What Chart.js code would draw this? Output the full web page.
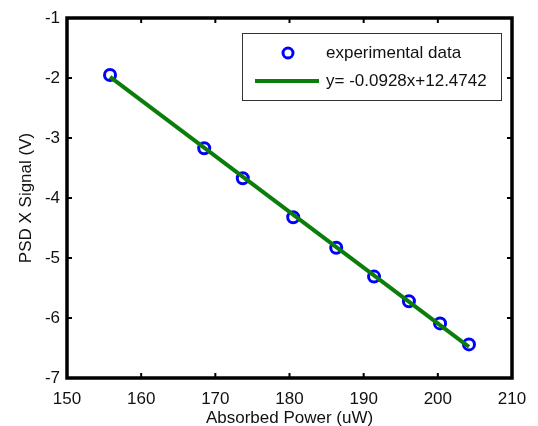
<!DOCTYPE html>
<html>
<head>
<meta charset="utf-8">
<script src="https://cdn.jsdelivr.net/npm/chart.js@4"></script>
<style>
  html, body { margin: 0; padding: 0; background: #fff; }
  #wrap { width: 538px; height: 426px; }
</style>
</head>
<body>
<div id="wrap"><canvas id="psd-chart"></canvas></div>
<script>
// measured points
const powerValues = [155.8, 168.5, 173.7, 180.5, 186.3, 191.4, 196.1, 200.3, 204.2];
const signalValues = [-1.95, -3.17, -3.67, -4.32, -4.83, -5.31, -5.72, -6.09, -6.44];
// fitted line end points
const fitX = [155.8, 204.2];
const fitY = [-1.98, -6.48];
const xTicks = [150, 160, 170, 180, 190, 200, 210];
const yTicks = [-1, -2, -3, -4, -5, -6, -7];
const legendLabels = ["experimental data", "y= -0.0928x+12.4742"];

const FONT = "'Liberation Sans', Arial, sans-serif";
const BLUE = "#0000ff";
const GREEN = "#0a7d0a";
const TXT = "#111";

// box + inward ticks like matlab
const boxPlugin = {
  id: "box",
  afterDatasetsDraw(chart) {
    const { ctx, chartArea: a, scales } = chart;
    ctx.save();
    ctx.strokeStyle = "#000";
    ctx.lineWidth = 2;
    const len = 5;
    ctx.beginPath();
    xTicks.forEach((t) => {
      const px = scales.x.getPixelForValue(t);
      ctx.moveTo(px, a.bottom); ctx.lineTo(px, a.bottom - len);
      ctx.moveTo(px, a.top); ctx.lineTo(px, a.top + len);
    });
    yTicks.forEach((t) => {
      const py = scales.y.getPixelForValue(t);
      ctx.moveTo(a.left, py); ctx.lineTo(a.left + len, py);
      ctx.moveTo(a.right, py); ctx.lineTo(a.right - len, py);
    });
    ctx.stroke();
    ctx.lineWidth = 3.5;
    ctx.strokeRect(a.left, a.top, a.right - a.left, a.bottom - a.top);
    ctx.restore();
  },
};

const legendPlugin = {
  id: "boxLegend",
  afterDraw(chart) {
    const { ctx, chartArea: a } = chart;
    const right = a.right - 11;
    const left = right - 259;
    const top = a.top + 15;
    const h = 67;
    ctx.save();
    ctx.fillStyle = "#fff";
    ctx.fillRect(left, top, right - left, h);
    ctx.strokeStyle = "#333";
    ctx.lineWidth = 1;
    ctx.strokeRect(left + 0.5, top + 0.5, right - left, h);

    // row 1 marker
    ctx.strokeStyle = BLUE;
    ctx.lineWidth = 3;
    ctx.beginPath();
    ctx.arc(left + 46, top + 20, 5, 0, Math.PI * 2);
    ctx.stroke();
    // row 2 line
    ctx.strokeStyle = GREEN;
    ctx.lineWidth = 4;
    ctx.beginPath();
    ctx.moveTo(left + 13, top + 48);
    ctx.lineTo(left + 77, top + 48);
    ctx.stroke();

    ctx.fillStyle = TXT;
    ctx.font = "17px " + FONT;
    ctx.textBaseline = "middle";
    ctx.fillText(legendLabels[0], left + 84, top + 20);
    ctx.fillText(legendLabels[1], left + 84, top + 48);
    ctx.restore();
  },
};

const ctx = document.getElementById("psd-chart").getContext("2d");
const chart = new Chart(ctx, {
  type: "scatter",
  data: {
    datasets: [
      {
        label: legendLabels[0],
        data: powerValues.map((x, i) => ({ x: x, y: signalValues[i] })),
        showLine: false,
        pointStyle: "circle",
        pointRadius: 5.5,
        pointBorderWidth: 3,
        borderColor: BLUE,
        pointBackgroundColor: "rgba(0,0,0,0)",
        order: 1,
      },
      {
        label: legendLabels[1],
        data: fitX.map((x, i) => ({ x: x, y: fitY[i] })),
        showLine: true,
        pointRadius: 0,
        borderColor: GREEN,
        borderWidth: 4,
        order: 0,
      },
    ],
  },
  options: {
    responsive: true,
    maintainAspectRatio: false,
    animation: false,
    layout: { padding: { left: 16, top: 18, right: 26, bottom: 0 } },
    plugins: {
      legend: { display: false },
      tooltip: { enabled: false },
    },
    scales: {
      x: {
        type: "linear",
        min: 150,
        max: 210,
        afterBuildTicks: (s) => { s.ticks = xTicks.map((v) => ({ value: v })); },
        afterFit: (s) => { s.height = 48; },
        grid: { display: false, drawTicks: false },
        border: { display: false },
        ticks: { color: TXT, padding: 11, font: { family: FONT, size: 17 } },
        title: {
          display: true,
          text: "Absorbed Power (uW)",
          color: TXT,
          padding: { top: 0, bottom: 0 },
          font: { family: FONT, size: 17, lineHeight: 0.95 },
        },
      },
      y: {
        type: "linear",
        min: -7,
        max: -1,
        afterBuildTicks: (s) => { s.ticks = yTicks.map((v) => ({ value: v })); },
        afterFit: (s) => { s.width = 51; },
        grid: { display: false, drawTicks: false },
        border: { display: false },
        ticks: { color: TXT, padding: 7, font: { family: FONT, size: 17 } },
        title: {
          display: true,
          text: "PSD X Signal (V)",
          color: TXT,
          padding: { top: 0, bottom: 4 },
          font: { family: FONT, size: 17 },
        },
      },
    },
  },
  plugins: [boxPlugin, legendPlugin],
});
</script>
</body>
</html>
